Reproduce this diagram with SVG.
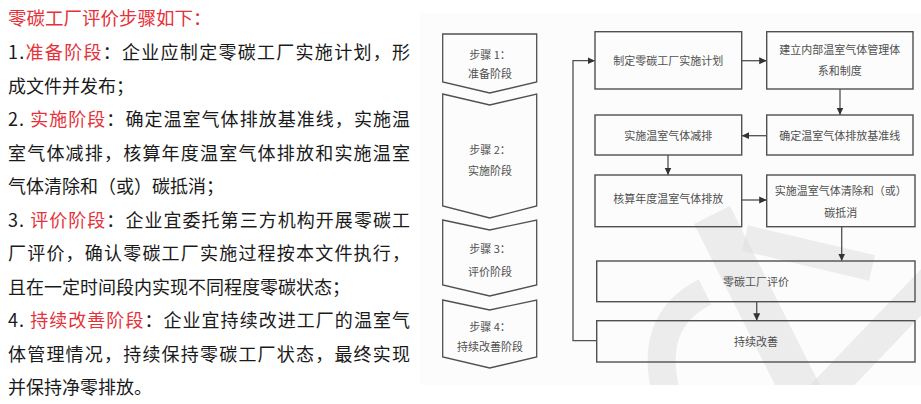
<svg xmlns="http://www.w3.org/2000/svg" width="921" height="404" viewBox="0 0 921 404">
<style>
.body{font-family:"Noto Sans CJK SC","Noto Sans",sans-serif;font-size:18px;fill:#1a1a1a}
.red{fill:#e5323a}
.box{fill:none;stroke:#505050;stroke-width:1.4}
.chev{fill:none;stroke:#505050;stroke-width:1.3}
.lbl{font-family:"Noto Sans CJK SC",sans-serif;font-size:11px;fill:#505050;text-anchor:middle}
.conn{fill:none;stroke:#505050;stroke-width:1.3}
.wm{fill:none;stroke:#dcdcdc;stroke-opacity:0.5}
</style>
<defs>
<marker id="ah" markerWidth="8" markerHeight="8" refX="7" refY="4" orient="auto" markerUnits="userSpaceOnUse">
<path d="M0,0.5 L7.5,4 L0,7.5 Z" fill="#333"/>
</marker>
<clipPath id="imgclip"><rect x="420" y="13" width="501" height="372"/></clipPath>
</defs>
<rect width="921" height="404" fill="#ffffff"/>
<rect x="420" y="13" width="501" height="372" fill="#fcfcfc"/>

<g id="text-left">
<text class="body red" x="8" y="24.5" style="font-size:18.5px">零碳工厂评价步骤如下：</text>
<text class="body" x="8" y="59" textLength="402" lengthAdjust="spacing">1.<tspan class="red">准备阶段</tspan>：企业应制定零碳工厂实施计划，形</text>
<text class="body" x="8" y="92.5">成文件并发布；</text>
<text class="body" x="8" y="126" textLength="402" lengthAdjust="spacing">2. <tspan class="red">实施阶段</tspan>：确定温室气体排放基准线，实施温</text>
<text class="body" x="8" y="159.5" textLength="402" lengthAdjust="spacing">室气体减排，核算年度温室气体排放和实施温室</text>
<text class="body" x="8" y="193">气体清除和（或）碳抵消；</text>
<text class="body" x="8" y="226.5" textLength="402" lengthAdjust="spacing">3. <tspan class="red">评价阶段</tspan>：企业宜委托第三方机构开展零碳工</text>
<text class="body" x="8" y="260" textLength="402" lengthAdjust="spacing">厂评价，确认零碳工厂实施过程按本文件执行，</text>
<text class="body" x="8" y="293.5">且在一定时间段内实现不同程度零碳状态；</text>
<text class="body" x="8" y="327" textLength="402" lengthAdjust="spacing">4. <tspan class="red">持续改善阶段</tspan>：企业宜持续改进工厂的温室气</text>
<text class="body" x="8" y="360.5" textLength="402" lengthAdjust="spacing">体管理情况，持续保持零碳工厂状态，最终实现</text>
<text class="body" x="8" y="394">并保持净零排放。</text>
</g>

<g id="watermark" clip-path="url(#imgclip)">
<line class="wm" x1="712" y1="215" x2="805" y2="400" stroke-width="40"/>
<line class="wm" x1="745" y1="238" x2="872" y2="268" stroke-width="26"/>
<line class="wm" x1="950" y1="262" x2="818" y2="400" stroke-width="32"/>
<path class="wm" d="M705,292 Q645,322 668,400" stroke-width="28"/>
</g>

<g id="step1">
<path class="chev" d="M442.7,34 L536.7,34 L536.7,82 L489.7,93 L442.7,82 Z"/>
<text class="lbl" x="490" y="59">步骤 1：</text>
<text class="lbl" x="490" y="78">准备阶段</text>
</g>
<g id="step2">
<path class="chev" d="M442.7,94 L489.7,105 L536.7,94 L536.7,206 L489.7,218 L442.7,206 Z"/>
<text class="lbl" x="490" y="154">步骤 2：</text>
<text class="lbl" x="490" y="175">实施阶段</text>
</g>
<g id="step3">
<path class="chev" d="M442.7,220 L489.7,230 L536.7,220 L536.7,285 L489.7,296 L442.7,285 Z"/>
<text class="lbl" x="490" y="253">步骤 3：</text>
<text class="lbl" x="490" y="276">评价阶段</text>
</g>
<g id="step4">
<path class="chev" d="M442.7,300 L489.7,310 L536.7,300 L536.7,357 L489.7,368 L442.7,357 Z"/>
<text class="lbl" x="490" y="331">步骤 4：</text>
<text class="lbl" x="490" y="351">持续改善阶段</text>
</g>

<g id="boxA">
<rect class="box" x="595" y="31.7" width="146.7" height="57.3"/>
<text class="lbl" x="668.3" y="64.7">制定零碳工厂实施计划</text>
</g>
<g id="boxB">
<rect class="box" x="766.7" y="31.7" width="146.3" height="57.3"/>
<text class="lbl" x="839.8" y="54">建立内部温室气体管理体</text>
<text class="lbl" x="839.8" y="74.7">系和制度</text>
</g>
<g id="boxC">
<rect class="box" x="766.7" y="115" width="146.3" height="40"/>
<text class="lbl" x="839.8" y="139.7">确定温室气体排放基准线</text>
</g>
<g id="boxD">
<rect class="box" x="595" y="115" width="146.7" height="40"/>
<text class="lbl" x="668.3" y="139.7">实施温室气体减排</text>
</g>
<g id="boxE">
<rect class="box" x="595" y="175" width="146.7" height="51.7"/>
<text class="lbl" x="668.3" y="203">核算年度温室气体排放</text>
</g>
<g id="boxF">
<rect class="box" x="766.7" y="175" width="148.3" height="51.7"/>
<text class="lbl" x="840.8" y="195">实施温室气体清除和（或）</text>
<text class="lbl" x="840.8" y="217">碳抵消</text>
</g>
<g id="boxG">
<rect class="box" x="596.7" y="261" width="318.3" height="40.7"/>
<text class="lbl" x="756" y="285.7">零碳工厂评价</text>
</g>
<g id="boxH">
<rect class="box" x="596.7" y="320.7" width="318.3" height="41.3"/>
<text class="lbl" x="756" y="345.7">持续改善</text>
</g>

<g id="connectors">
<polyline class="conn" points="596.7,340.7 573,340.7 573,60.7 594.5,60.7" marker-end="url(#ah)"/>
<line class="conn" x1="741.7" y1="60.7" x2="766.2" y2="60.7" marker-end="url(#ah)"/>
<line class="conn" x1="840" y1="89" x2="840" y2="114.5" marker-end="url(#ah)"/>
<line class="conn" x1="766.7" y1="135.7" x2="742.2" y2="135.7" marker-end="url(#ah)"/>
<line class="conn" x1="668" y1="155" x2="668" y2="174.5" marker-end="url(#ah)"/>
<line class="conn" x1="741.7" y1="200" x2="766.2" y2="200" marker-end="url(#ah)"/>
<line class="conn" x1="841.7" y1="226.7" x2="841.7" y2="260.5" marker-end="url(#ah)"/>
<line class="conn" x1="756.7" y1="301.7" x2="756.7" y2="320.2" marker-end="url(#ah)"/>
</g>
</svg>
